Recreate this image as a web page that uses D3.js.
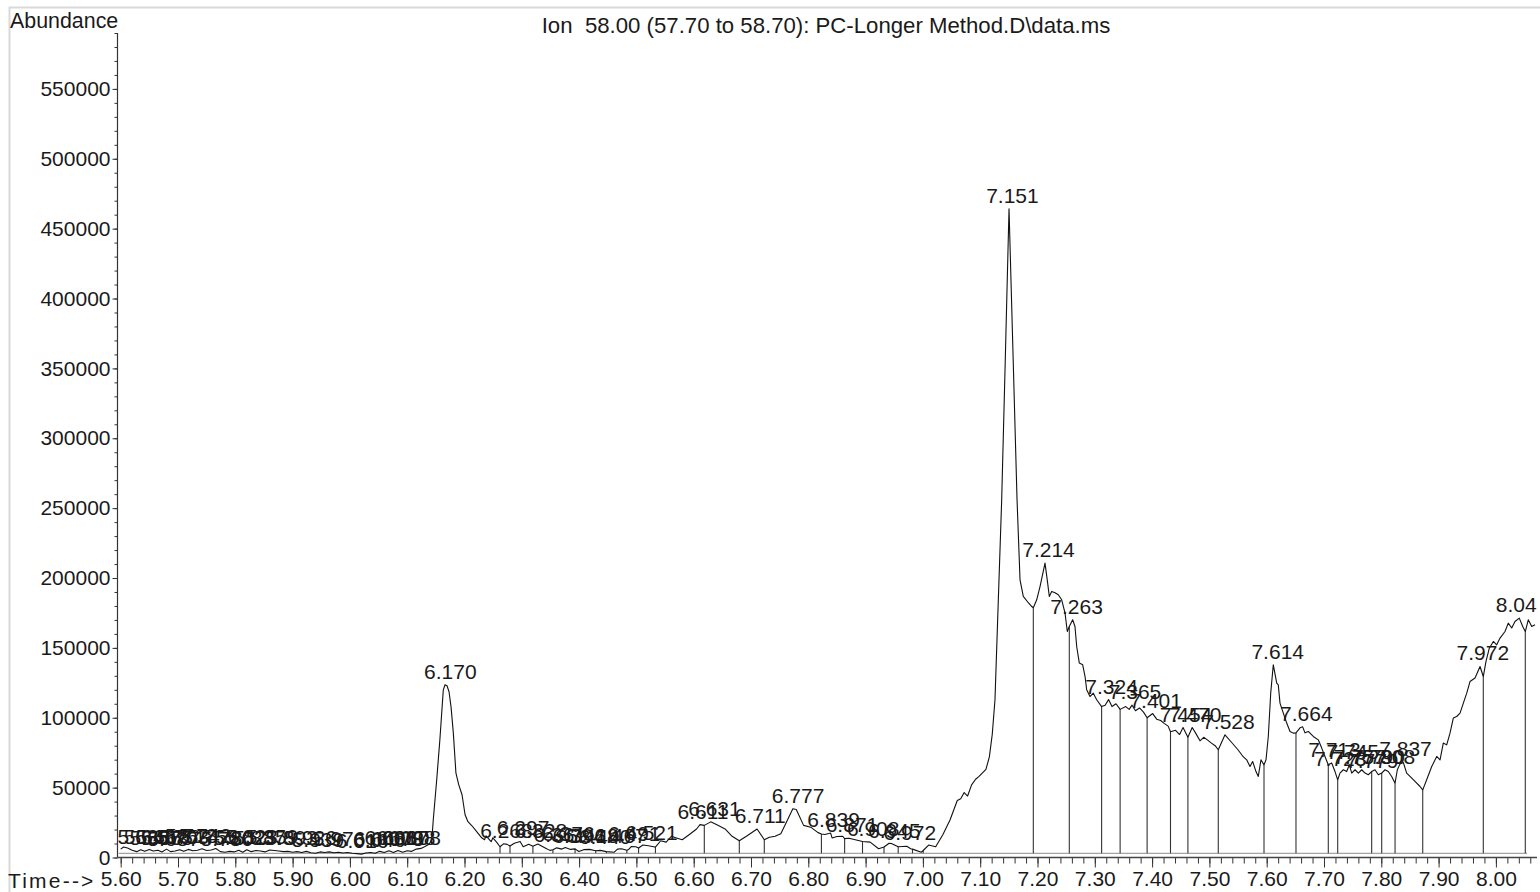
<!DOCTYPE html>
<html>
<head>
<meta charset="utf-8">
<script src="https://cdn.jsdelivr.net/npm/d3@7/dist/d3.min.js"></script>
<style>
  html, body { margin: 0; padding: 0; background: #fff; }
  svg { display: block; }
  text { font-family: "Liberation Sans", Arial, sans-serif; fill: #1a1a1a; }
</style>
</head>
<body>
<svg id="chart" width="1540" height="892"></svg>
<script>
// ---------- DATA ----------
const titleText = "Ion  58.00 (57.70 to 58.70): PC-Longer Method.D\\data.ms";
const yAxisTitle = "Abundance";
const xAxisTitle = "Time-->";

const xTickLabels = ["5.60","5.70","5.80","5.90","6.00","6.10","6.20","6.30","6.40","6.50","6.60","6.70","6.80","6.90","7.00","7.10","7.20","7.30","7.40","7.50","7.60","7.70","7.80","7.90","8.00"];
const yTickLabels = ["0","50000","100000","150000","200000","250000","300000","350000","400000","450000","500000","550000"];

// retention time (min)
const times = [
5.600,5.605,5.612,5.620,5.628,5.635,5.642,5.650,5.657,5.665,5.672,5.680,5.687,5.695,5.703,5.710,5.718,5.726,5.734,5.742,
5.750,5.758,5.766,5.774,5.782,5.790,5.798,5.806,5.813,5.820,5.828,5.836,5.844,5.852,5.860,5.868,5.876,5.884,5.892,5.900,
5.908,5.916,5.924,5.932,5.940,5.948,5.956,5.964,5.972,5.980,5.988,5.996,6.004,6.012,6.020,6.028,6.036,6.044,6.052,6.060,
6.068,6.076,6.084,6.092,6.100,6.108,6.116,6.124,6.131,6.138,6.143,6.1455,6.1515,6.157,6.163,6.166,6.1695,6.173,6.1765,6.1805,
6.185,6.190,6.1957,6.201,6.206,6.213,6.2227,6.230,6.235,6.2375,6.2465,6.2495,6.256,6.262,6.268,6.2744,6.2794,6.287,6.297,6.3025,
6.312,6.3194,6.328,6.340,6.349,6.3543,6.361,6.370,6.376,6.385,6.393,6.3995,6.408,6.418,6.429,6.437,6.4476,6.4614,6.467,6.474,
6.4833,6.4866,6.491,6.499,6.5038,6.5113,6.521,6.530,6.5332,6.5424,6.552,6.561,6.570,6.580,6.5925,6.605,6.611,6.6185,6.6297,6.6422,
6.6547,6.667,6.6796,6.692,6.7106,6.7232,6.732,6.742,6.752,6.7605,6.773,6.779,6.7918,6.8042,6.817,6.8229,6.829,6.839,6.8415,6.850,
6.860,6.8634,6.871,6.8946,6.908,6.9227,6.9321,6.941,6.945,6.9569,6.972,6.9787,6.9818,6.9973,7.0005,7.010,7.0223,7.035,7.0473,7.060,
7.066,7.072,7.078,7.085,7.092,7.098,7.104,7.110,7.116,7.121,7.1258,7.1316,7.1375,7.144,7.1503,7.1573,7.1643,7.1695,7.1752,7.184,
7.190,7.1927,7.1986,7.2044,7.2131,7.217,7.2206,7.2248,7.2305,7.2363,7.2422,7.248,7.252,7.2555,7.2614,7.2654,7.2684,7.273,7.2789,7.283,
7.2858,7.2916,7.2974,7.3033,7.3119,7.318,7.324,7.330,7.337,7.3442,7.354,7.360,7.365,7.371,7.378,7.385,7.3913,7.401,7.408,7.415,
7.421,7.428,7.4321,7.441,7.448,7.454,7.4625,7.470,7.476,7.4836,7.490,7.497,7.503,7.510,7.5155,7.5272,7.5389,7.5499,7.5586,7.5651,
7.5708,7.5755,7.5813,7.5853,7.590,7.5953,7.5988,7.6028,7.607,7.6115,7.6175,7.6202,7.6232,7.629,7.6349,7.6407,7.6464,7.6511,7.6581,7.6628,
7.6668,7.6726,7.6813,7.690,7.696,7.7017,7.7075,7.7134,7.7192,7.7239,7.7279,7.7337,7.7396,7.7442,7.7484,7.7542,7.760,7.7658,7.7716,7.7773,
7.7832,7.789,7.7948,7.8007,7.8065,7.8122,7.8181,7.824,7.828,7.8327,7.8384,7.8443,7.8501,7.8588,7.8676,7.8723,7.8792,7.888,7.8967,7.9025,
7.9082,7.9141,7.9199,7.9257,7.9316,7.9374,7.9432,7.9491,7.9548,7.9636,7.9723,7.978,7.9827,7.9885,7.9955,8.0014,8.0072,8.0159,8.0216,8.0276,
8.0333,8.0408,8.0468,8.0513,8.0565,8.0625,8.0683
];

// abundance (counts)
const abundance = [
6000,7500,6800,5200,4200,5600,4400,5800,4600,5200,4000,6000,4200,4600,5600,4400,5800,4800,5200,6200,
5000,5400,6400,4200,3800,4400,4000,5200,3800,5600,4200,5000,4600,4000,5400,5000,4600,4200,4400,3800,
4200,3600,4400,3400,3000,4000,3600,4000,3400,3800,3200,3600,3000,2800,2400,3200,3600,3000,4400,3600,
4800,3600,5000,3800,4800,4400,6000,6500,7900,9500,12700,27000,55600,84200,120000,123600,122900,118600,107800,89200,
60600,52000,44900,30600,25600,22700,17800,14100,12700,15500,11300,14100,11000,7700,9800,9400,8200,10200,11500,7700,
9400,8000,9600,7000,5100,5600,6900,6000,7200,5800,6200,4300,5600,5800,4800,5100,4200,3800,6000,6300,
5200,5800,7800,7700,6800,8900,8400,7700,7400,12000,11000,15200,14000,12700,16500,20400,23500,23000,25500,23000,
20400,15200,12000,15200,20400,12700,14500,15200,17000,24200,34900,34400,23000,21700,17800,16800,16500,17500,14000,15000,
15200,13500,13800,11400,11000,6300,7500,10200,10000,7700,8000,6300,6000,3800,5000,8900,7700,16500,26800,40800,
42000,46500,44000,52000,56000,58000,60500,63000,72000,88000,112900,184000,256000,360000,464200,360000,256000,198700,186800,182300,
179600,178700,184400,193900,210700,198700,186800,190400,189400,188000,184400,175100,161700,165300,170100,165300,151000,139100,137900,129500,
120000,115200,117600,112900,108000,109000,113000,108000,110000,106000,108000,106000,109000,105000,107000,104000,100000,103000,99000,98000,
96000,94000,90000,91000,88000,93000,86000,93000,89000,83500,86000,84000,82000,80000,77100,87800,82300,77100,72300,69900,
65100,68700,61500,58000,69900,66300,69900,86600,117600,137900,124800,123600,110500,103300,96200,90200,89000,89200,92800,93500,
89200,90200,86600,84200,78300,72300,66300,67600,61500,55600,60400,62800,61500,66300,60400,62800,60400,62800,60400,59200,
61500,62800,59200,60400,62800,61500,58000,53200,62800,67000,68000,60400,58000,54400,50800,48400,55600,65100,72300,69900,
81900,80600,89000,99800,100900,103300,110500,117600,125900,128400,136700,129500,140300,149800,154600,152200,157000,161700,167700,164200,
168900,171300,165300,161700,170100,165300,166500
];

// integration boundaries (drop lines to baseline)
const boundaryTimes = [6.262,6.2794,6.3194,6.3543,6.393,6.429,6.4476,6.4833,6.5038,6.5332,6.6185,6.6796,6.7232,6.8229,6.8634,6.8946,6.9321,6.9569,6.9818,7.0005,
7.1927,7.2555,7.3119,7.3442,7.3913,7.4321,7.4625,7.5155,7.5953,7.6511,7.7075,7.7239,7.7832,7.8007,7.824,7.8723,7.978,8.0513];

// peak labels (retention times as printed; the last one is cut by the window edge)
const peakLabels = ["5.635","5.646","5.656","5.667","5.675","5.687","5.703","5.718","5.742","5.756","5.780","5.802","5.823","5.837","5.859","5.893","5.926","5.939","5.976","6.016","6.046","6.066","6.078","6.087","6.098","6.108",
"6.170","6.268","6.297","6.328","6.361","6.376","6.394","6.418","6.440","6.467","6.491","6.521","6.611","6.631","6.711","6.777","6.839","6.871","6.908","6.945","6.972",
"7.151","7.214","7.263","7.324","7.365","7.401","7.454","7.470","7.528","7.614","7.664","7.713","7.723","7.745","7.757","7.779","7.790","7.808","7.837","7.972","8.04"];
const lastPeakTime = 8.041;

// ---------- DRAW ----------
const svg = d3.select("#chart");
const W = 1540, H = 892;

const x = d3.scaleLinear().domain([5.6, 8.0]).range([120.7, 1495.9]);
const y = d3.scaleLinear().domain([0, 550000]).range([857.5, 88.9]);
const axisX0 = 117.5, axisXEnd = 1537, yTop = y(590000);
const FS = 21;

// window frame (light grey)
svg.append("path")
  .attr("d", `M9.5,${H} V7.5 H${W}`)
  .attr("fill", "none").attr("stroke", "#d9d9d9").attr("stroke-width", 2);

svg.append("defs").append("clipPath").attr("id", "clip")
  .append("rect").attr("x", 0).attr("y", 0).attr("width", 1538).attr("height", H);

// titles
svg.append("text").attr("x", 10).attr("y", 28).attr("font-size", 21.4).text(yAxisTitle);
svg.append("text").attr("x", 826).attr("y", 33).attr("font-size", 22.2)
  .attr("text-anchor", "middle").style("white-space", "pre").text(titleText);
svg.append("text").attr("x", 8).attr("y", 888).attr("font-size", FS)
  .attr("letter-spacing", 2.2).text(xAxisTitle);

// y axis
const yMinor = d3.range(0, 590001, 10000);
const yMajor = yTickLabels.map(Number);
const gy = svg.append("g").attr("transform", `translate(${axisX0},0)`);
gy.call(d3.axisLeft(y).tickValues(yMinor).tickSize(3).tickFormat(""));
gy.append("g").call(d3.axisLeft(y).tickValues(yMajor).tickSize(5).tickPadding(2)
   .tickFormat((d, i) => yTickLabels[i]));
gy.selectAll(".domain").remove();
gy.selectAll("line").attr("stroke", "#333");
gy.selectAll("text").attr("font-size", FS).attr("font-family", "Liberation Sans, Arial, sans-serif").attr("fill", "#1a1a1a");
svg.append("line").attr("x1", axisX0).attr("x2", axisX0).attr("y1", yTop).attr("y2", y(0))
  .attr("stroke", "#333").attr("stroke-width", 1.2);

// x axis
const xMinor = d3.range(0, 124).map(i => 5.6 + i * 0.02);
const xMajor = xTickLabels.map(Number);
const gx = svg.append("g").attr("transform", `translate(0,${y(0)})`);
gx.call(d3.axisBottom(x).tickValues(xMinor).tickSize(6).tickFormat(""));
gx.append("g").call(d3.axisBottom(x).tickValues(xMajor).tickSize(10).tickPadding(4)
   .tickFormat((d, i) => xTickLabels[i]));
gx.selectAll(".domain").remove();
gx.selectAll("line").attr("stroke", "#333");
gx.selectAll("text").attr("font-size", FS).attr("font-family", "Liberation Sans, Arial, sans-serif").attr("fill", "#1a1a1a");
svg.append("line").attr("x1", axisX0).attr("x2", axisXEnd).attr("y1", y(0)).attr("y2", y(0))
  .attr("stroke", "#444").attr("stroke-width", 1.3);

// integration baseline
const baseV = 3000;
svg.append("line").attr("x1", x(5.6) - 2).attr("x2", axisXEnd - 10).attr("y1", y(baseV)).attr("y2", y(baseV))
  .attr("stroke", "#8c8c8c").attr("stroke-width", 1);

const data = times.map((t, i) => ({t, v: abundance[i]}));
const interp = t => {
  const i = d3.bisector(d => d.t).left(data, t);
  if (i <= 0) return data[0].v;
  if (i >= data.length) return data[data.length - 1].v;
  const a = data[i - 1], b = data[i];
  return a.v + (b.v - a.v) * (t - a.t) / (b.t - a.t);
};

const plot = svg.append("g").attr("clip-path", "url(#clip)");

// drop lines
plot.selectAll("line.drop").data(boundaryTimes).join("line")
  .attr("class", "drop")
  .attr("x1", d => x(d)).attr("x2", d => x(d))
  .attr("y1", d => y(interp(d))).attr("y2", y(baseV))
  .attr("stroke", "#333").attr("stroke-width", 1.1);

// trace
plot.append("path").datum(data)
  .attr("fill", "none").attr("stroke", "#111").attr("stroke-width", 1.1)
  .attr("stroke-linejoin", "round")
  .attr("d", d3.line().x(d => x(d.t)).y(d => y(d.v)));

// peak labels
const labelTime = (d, i) => (i === peakLabels.length - 1 ? lastPeakTime : +d);
const lbl = svg.selectAll("text.pk").data(peakLabels).join("text")
  .attr("class", "pk")
  .attr("font-size", FS)
  .attr("text-anchor", "middle")
  .attr("x", (d, i) => x(labelTime(d, i)) + 3)
  .attr("y", (d, i) => {
    const t = labelTime(d, i);
    const m = d3.max(data.filter(p => Math.abs(p.t - t) <= 0.004), p => p.v) ?? interp(t);
    return y(Math.max(m, interp(t))) - 6;
  })
  .text(d => d);
// keep labels inside the window's right edge
lbl.each(function() {
  const bb = this.getBBox();
  const over = bb.x + bb.width - 1537;
  if (over > 0) d3.select(this).attr("x", +d3.select(this).attr("x") - over);
});
</script>
</body>
</html>
